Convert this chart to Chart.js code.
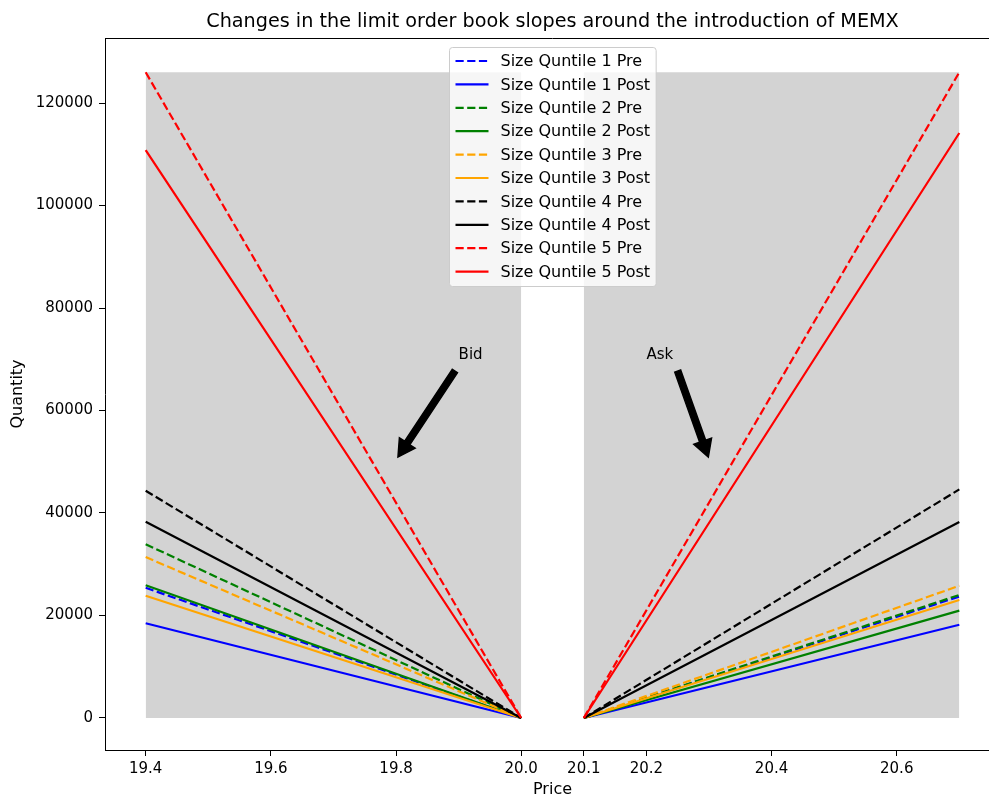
<!DOCTYPE html>
<html>
<head>
<meta charset="utf-8">
<script src="https://cdn.jsdelivr.net/npm/chart.js@4.4.1/dist/chart.umd.min.js"></script>
<style>
  html, body { margin: 0; padding: 0; background: #fff; overflow: hidden; }
  #wrap { width: 1001px; height: 798px; }
</style>
</head>
<body>
<div id="wrap"><canvas id="chart-memx" width="1001" height="798"></canvas></div>
<script>
// data
var quintiles = ['1', '2', '3', '4', '5'];
var colours = ['#0000ff', '#008000', '#ffa500', '#000000', '#ff0000'];
var bidPrice = [19.4, 20.0];
var askPrice = [20.1, 20.7];
var bidPre  = [25400, 33900, 31400, 44350, 126000];
var bidPost = [18480, 25900, 23860, 38300, 110800];
var askPre  = [23700, 24000, 25800, 44600, 126000];
var askPost = [18200, 20940, 23020, 38240, 114150];
var xTicks = [19.4, 19.6, 19.8, 20.0, 20.1, 20.2, 20.4, 20.6];
var yTicks = [0, 20000, 40000, 60000, 80000, 100000, 120000];

// annotations (data units)
var notes = [
	{ text: 'Bid', x: 19.9, y: 70000, tail: [19.894, 67700], tip: [19.803, 50900] },
	{ text: 'Ask', x: 20.2, y: 70000, tail: [20.250, 67700], tip: [20.299, 50900] }
];

var FONT = "'DejaVu Sans', sans-serif";
var yTop = Math.max.apply(null, bidPre.concat(bidPost, askPre, askPost));

var datasets = [];
// grey background blocks
[bidPrice, askPrice].forEach(function(p) {
	datasets.push({
		data: [{ x: p[0], y: yTop }, { x: p[1], y: yTop }],
		fill: 'origin',
		backgroundColor: '#d3d3d3',
		borderColor: 'rgba(0,0,0,0)',
		borderWidth: 0,
		pointRadius: 0,
		order: 100
	});
});

var k = 0;
quintiles.forEach(function(q, i) {
	[['Pre', bidPre, askPre], ['Post', bidPost, askPost]].forEach(function(s) {
		datasets.push({
			label: 'Size Quntile ' + q + ' ' + s[0],
			data: [
				{ x: bidPrice[0], y: s[1][i] }, { x: bidPrice[1], y: 0 },
				{ x: (bidPrice[1] + askPrice[0]) / 2, y: null },
				{ x: askPrice[0], y: 0 }, { x: askPrice[1], y: s[2][i] }
			],
			borderColor: colours[i],
			backgroundColor: colours[i],
			borderWidth: 2.2,
			borderDash: s[0] == 'Pre' ? [8.2, 3.5] : [],
			pointRadius: 0,
			fill: false,
			spanGaps: false,
			order: 50 - k
		});
		k++;
	});
});

var extras = {
	id: 'extras',
	afterDatasetsDraw: function(chart) {
		var ctx = chart.ctx, a = chart.chartArea;
		var xs = chart.scales.x, ys = chart.scales.y;
		ctx.save();

		// arrows + labels
		notes.forEach(function(n) {
			var tx = xs.getPixelForValue(n.tail[0]), ty = ys.getPixelForValue(n.tail[1]);
			var hx = xs.getPixelForValue(n.tip[0]), hy = ys.getPixelForValue(n.tip[1]);
			var dx = hx - tx, dy = hy - ty, L = Math.sqrt(dx * dx + dy * dy);
			var ux = dx / L, uy = dy / L, px = -uy, py = ux;
			var sw = 3.2, hw = 9.5, hl = 17;
			var bx = hx - ux * hl, by = hy - uy * hl;
			ctx.beginPath();
			ctx.moveTo(tx + px * sw, ty + py * sw);
			ctx.lineTo(bx + px * sw, by + py * sw);
			ctx.lineTo(bx + px * hw, by + py * hw);
			ctx.lineTo(hx, hy);
			ctx.lineTo(bx - px * hw, by - py * hw);
			ctx.lineTo(bx - px * sw, by - py * sw);
			ctx.lineTo(tx - px * sw, ty - py * sw);
			ctx.closePath();
			ctx.fillStyle = '#000';
			ctx.strokeStyle = '#000';
			ctx.lineWidth = 1.4;
			ctx.lineJoin = 'miter';
			ctx.fill();
			ctx.stroke();

			ctx.font = '15px ' + FONT;
			ctx.textAlign = 'left';
			ctx.textBaseline = 'alphabetic';
			ctx.fillText(n.text, xs.getPixelForValue(n.x), ys.getPixelForValue(n.y));
		});

		// top and right spines
		ctx.strokeStyle = '#000';
		ctx.lineWidth = 1;
		ctx.beginPath();
		ctx.moveTo(a.left, a.top + 0.5);
		ctx.lineTo(a.right, a.top + 0.5);
		ctx.lineTo(a.right - 0.5, a.bottom);
		ctx.stroke();

		// legend
		var items = chart.data.datasets.filter(function(d) { return d.label; });
		ctx.font = '16px ' + FONT;
		var tw = 0;
		items.forEach(function(d) { tw = Math.max(tw, ctx.measureText(d.label).width); });
		var rowH = 23.4;
		var w = 6 + 33 + 12 + tw + 6;
		var h = items.length * rowH + 5;
		var lx = Math.round((a.left + a.right) / 2 - w / 2) + 0.5;
		var ly = a.top + 9.5;
		ctx.beginPath();
		if (ctx.roundRect) ctx.roundRect(lx, ly, w, h, 3); else ctx.rect(lx, ly, w, h);
		ctx.fillStyle = 'rgba(255,255,255,0.8)';
		ctx.fill();
		ctx.strokeStyle = '#cccccc';
		ctx.lineWidth = 1;
		ctx.stroke();
		items.forEach(function(d, i) {
			var cy = ly + 13.5 + i * rowH;
			ctx.beginPath();
			ctx.setLineDash(d.borderDash || []);
			ctx.strokeStyle = d.borderColor;
			ctx.lineWidth = 2.2;
			ctx.moveTo(lx + 6, cy);
			ctx.lineTo(lx + 39, cy);
			ctx.stroke();
			ctx.setLineDash([]);
			ctx.fillStyle = '#000';
			ctx.textBaseline = 'middle';
			ctx.fillText(d.label, lx + 51, cy + 1);
		});

		// title and axis titles
		ctx.fillStyle = '#000';
		ctx.textAlign = 'center';
		ctx.textBaseline = 'middle';
		ctx.font = '19.2px ' + FONT;
		ctx.fillText('Changes in the limit order book slopes around the introduction of MEMX', (a.left + a.right) / 2, 22);
		ctx.font = '16px ' + FONT;
		ctx.fillText('Price', (a.left + a.right) / 2, 790);
		ctx.translate(18, (a.top + a.bottom) / 2);
		ctx.rotate(-Math.PI / 2);
		ctx.fillText('Quantity', 0, 0);
		ctx.restore();
	}
};

var chartMemx = new Chart(document.getElementById('chart-memx'), {
	type: 'line',
	data: { datasets: datasets },
	options: {
		responsive: false,
		animation: false,
		events: [],
		layout: { padding: { top: 38, right: 1, bottom: 0, left: 0 } },
		plugins: { legend: { display: false }, tooltip: { enabled: false }, title: { display: false } },
		scales: {
			x: {
				type: 'linear',
				min: 19.335,
				max: 20.765,
				afterBuildTicks: function(s) { s.ticks = xTicks.map(function(v) { return { value: v }; }); },
				afterFit: function(s) { s.height = 48; },
				grid: { drawOnChartArea: false, drawTicks: true, tickLength: 6, tickWidth: 1, color: '#000' },
				border: { display: true, color: '#000', width: 1 },
				ticks: {
					color: '#000', padding: 4, maxRotation: 0, autoSkip: false,
					font: { family: FONT, size: 15 },
					callback: function(v) { return Number(v).toFixed(1); }
				}
			},
			y: {
				type: 'linear',
				min: -6244,
				max: 132683,
				afterBuildTicks: function(s) { s.ticks = yTicks.map(function(v) { return { value: v }; }); },
				afterFit: function(s) { s.width = 105; },
				grid: { drawOnChartArea: false, drawTicks: true, tickLength: 6, tickWidth: 1, color: '#000' },
				border: { display: true, color: '#000', width: 1 },
				ticks: {
					color: '#000', padding: 6,
					font: { family: FONT, size: 15 },
					callback: function(v) { return String(v); }
				}
			}
		}
	},
	plugins: [extras]
});
</script>
</body>
</html>
